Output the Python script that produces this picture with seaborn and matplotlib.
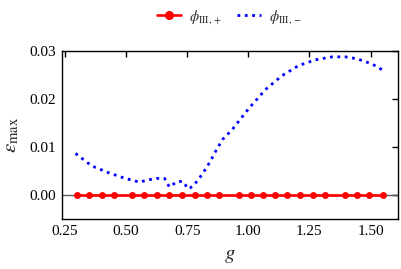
import numpy as np
import pandas as pd
import matplotlib
matplotlib.use("Agg")
import matplotlib.pyplot as plt
import seaborn as sns

# phi_III,+ series (markers)
g_plus = [0.30, 0.35, 0.40, 0.45, 0.525, 0.575, 0.625, 0.675, 0.73, 0.78, 0.83, 0.88,
          0.96, 1.01, 1.06, 1.11, 1.16, 1.21, 1.265, 1.315, 1.395, 1.445, 1.495, 1.55]
eps_plus = [0.0] * len(g_plus)

# phi_III,- series (dotted curve)
g_minus = [0.293, 0.359, 0.427, 0.496, 0.557, 0.580, 0.625, 0.657, 0.677, 0.707, 0.731,
           0.755, 0.776, 0.803, 0.830, 0.851, 0.871, 0.896, 0.933, 1.001, 1.070, 1.138,
           1.206, 1.275, 1.343, 1.398, 1.445, 1.507, 1.548]
eps_minus = [0.0087, 0.0061, 0.0047, 0.0035, 0.0027, 0.0031, 0.0035, 0.0035, 0.0017, 0.0028, 0.0029,
             0.0013, 0.0020, 0.0038, 0.0058, 0.0077, 0.0096, 0.0117, 0.0136, 0.0180, 0.0220, 0.0249,
             0.0270, 0.0282, 0.0288, 0.0288, 0.0284, 0.0273, 0.0261]

xticks = [0.25, 0.50, 0.75, 1.00, 1.25, 1.50]
yticks = [0.00, 0.01, 0.02, 0.03]

sns.set_style("white")
plt.rcParams['font.family'] = ['Liberation Serif', 'DejaVu Serif']
plt.rcParams['mathtext.fontset'] = 'stix'

fig = plt.figure(figsize=(4.01, 2.69), dpi=100)
ax = fig.add_axes([0.1546, 0.185, 0.838, 0.625])

ax.axhline(0, color='0.35', lw=1.0, zorder=1)

df_p = pd.DataFrame({'g': g_plus, 'eps': eps_plus})
df_m = pd.DataFrame({'g': g_minus, 'eps': eps_minus})

sns.lineplot(data=df_p, x='g', y='eps', ax=ax, color='red', lw=1.9, marker='o',
             markersize=5, markeredgewidth=0, label=r'$\phi_{\rm III,+}$', zorder=3)
sns.lineplot(data=df_m, x='g', y='eps', ax=ax, color='blue', lw=2.0, linestyle=':',
             label=r'$\phi_{\rm III,-}$', zorder=2)

ax.set_xlim(0.2375, 1.6125)
ax.set_ylim(-0.005, 0.03)
ax.set_xticks(xticks)
ax.set_yticks(yticks)
ax.set_xticklabels([f"{v:.2f}" for v in xticks])
ax.set_yticklabels([f"{v:.2f}" for v in yticks])
ax.tick_params(direction='in', top=True, right=True, labelsize=11, length=4, width=1,
               colors='black', pad=4)
for s in ax.spines.values():
    s.set_color('black')
    s.set_linewidth(1)

ax.set_xlabel(r'$g$', fontsize=15, labelpad=6)
ax.set_ylabel(r'$\varepsilon_{\max}$', fontsize=15, labelpad=6)

ax.legend(loc='center', bbox_to_anchor=(0.5, 1.204), ncol=2, frameon=False,
          fontsize=10.5, handlelength=1.6, handletextpad=0.6, columnspacing=1.0,
          markerscale=1.3)

fig.savefig('out.png', dpi=100)
